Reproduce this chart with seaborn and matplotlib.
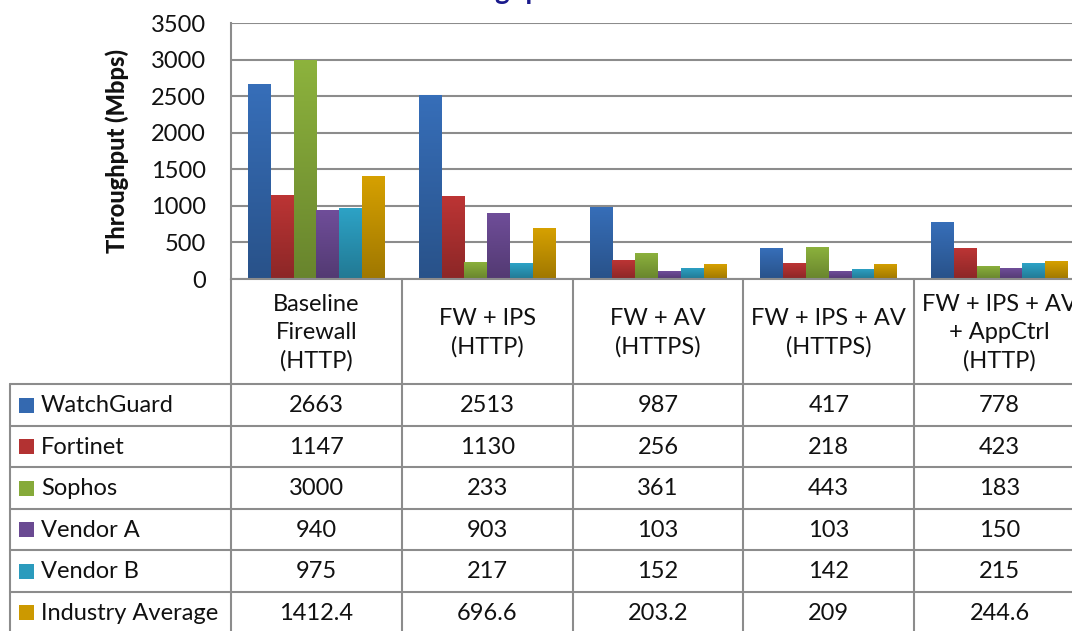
import numpy as np
import pandas as pd
import matplotlib
matplotlib.use("Agg")
import matplotlib.pyplot as plt
import matplotlib.colors as mcolors
import seaborn as sns

categories = ["Baseline\nFirewall\n(HTTP)", "FW + IPS\n(HTTP)", "FW + AV\n(HTTPS)",
              "FW + IPS + AV\n(HTTPS)", "FW + IPS + AV\n+ AppCtrl\n(HTTP)"]
vendors = ["WatchGuard", "Fortinet", "Sophos", "Vendor A", "Vendor B", "Industry Average"]
watchguard = [2663, 2513, 987, 417, 778]
fortinet = [1147, 1130, 256, 218, 423]
sophos = [3000, 233, 361, 443, 183]
vendor_a = [940, 903, 103, 103, 150]
vendor_b = [975, 217, 152, 142, 215]
industry_avg = [1412.4, 696.6, 203.2, 209, 244.6]
table_text = {
    "WatchGuard": ["2663", "2513", "987", "417", "778"],
    "Fortinet": ["1147", "1130", "256", "218", "423"],
    "Sophos": ["3000", "233", "361", "443", "183"],
    "Vendor A": ["940", "903", "103", "103", "150"],
    "Vendor B": ["975", "217", "152", "142", "215"],
    "Industry Average": ["1412.4", "696.6", "203.2", "209", "244.6"],
}
colors = ["#3469B0", "#B33232", "#86AA3A", "#6A4A92", "#2B9BBD", "#CC9900"]

series = [watchguard, fortinet, sophos, vendor_a, vendor_b, industry_avg]
df = pd.DataFrame({
    "category": np.tile(np.arange(len(categories)), len(vendors)),
    "vendor": np.repeat(vendors, len(categories)),
    "value": np.concatenate(series),
})

sns.set_theme(style="white")
plt.rcParams["font.family"] = ["Lato", "DejaVu Sans"]

FS = 17
W, H = 1072, 631
fig = plt.figure(figsize=(W / 100, H / 100), dpi=100)

def fx(px):
    return px / W

def fy(py):
    return 1 - py / H

ax_left, ax_right, ax_top, ax_bot = 231, 1085, 23, 279
ax = fig.add_axes([fx(ax_left), fy(ax_bot), (ax_right - ax_left) / W, (ax_bot - ax_top) / H])

sns.barplot(data=df, x="category", y="value", hue="vendor", hue_order=vendors,
            palette=colors, width=0.8, ax=ax, legend=False, saturation=1,
            edgecolor="none", linewidth=0)

ax.set_xlim(-0.5, len(categories) - 0.5)
ax.set_ylim(0, 3500)
ax.set_yticks(np.arange(0, 3501, 500))
ax.set_yticklabels([str(v) for v in range(0, 3501, 500)], fontsize=FS, color="#111111")
ax.tick_params(axis="y", length=0, pad=18)
ax.set_xticks([])
ax.set_xlabel("")
ax.set_ylabel("Throughput (Mbps)", fontsize=FS, fontweight="black", labelpad=16,
              color="#111111")
ax.yaxis.grid(True, color="#8C8C8C", linewidth=1.5)
ax.set_axisbelow(True)
for s in ["top", "right"]:
    ax.spines[s].set_visible(False)
for s in ["left", "bottom"]:
    ax.spines[s].set_color("#8C8C8C")
    ax.spines[s].set_linewidth(1.5)

# gradient fill on bars
for p in list(ax.patches):
    x0, y0 = p.get_x(), p.get_y()
    w, h = p.get_width(), p.get_height()
    if h <= 0:
        continue
    base = np.array(mcolors.to_rgb(p.get_facecolor()))
    top = np.clip(base * 1.05, 0, 1)
    bot = base * 0.78
    t = np.linspace(0, 1, 64)[:, None]
    grad = top[None, :] * (1 - t) + bot[None, :] * t
    img = np.repeat(grad[:, None, :], 2, axis=1)
    im = ax.imshow(img, extent=[x0, x0 + w, y0, y0 + h], origin="upper",
                   aspect="auto", zorder=p.get_zorder() + 0.1, interpolation="bilinear")
    im.set_clip_path(p)
ax.set_xlim(-0.5, len(categories) - 0.5)
ax.set_ylim(0, 3500)

# data table
line_c = "#8C8C8C"
col_edges = [231 + i * (ax_right - ax_left) / len(categories) for i in range(len(categories) + 1)]
header_top, header_bot = 279, 384
row_h = 41.5
n_rows = len(vendors)
table_left = 10
table_bottom = header_bot + row_h * n_rows

def hline(y, x0, x1):
    fig.add_artist(plt.Line2D([fx(x0), fx(x1)], [fy(y), fy(y)], color=line_c, lw=1.5))

def vline(x, y0, y1):
    fig.add_artist(plt.Line2D([fx(x), fx(x)], [fy(y0), fy(y1)], color=line_c, lw=1.5))

for xe in col_edges:
    vline(xe, header_top, table_bottom)
vline(table_left, header_bot, table_bottom)
for i in range(n_rows + 1):
    hline(header_bot + i * row_h, table_left, col_edges[-1])

for j, cat in enumerate(categories):
    cx = (col_edges[j] + col_edges[j + 1]) / 2
    fig.text(fx(cx), fy((header_top + header_bot) / 2 + 1), cat, ha="center", va="center",
             fontsize=FS, linespacing=1.4, color="#111111")

for i, v in enumerate(vendors):
    cy = header_bot + (i + 0.5) * row_h + 1
    fig.patches.append(plt.Rectangle((fx(19), fy(cy + 7)), 15 / W, 15 / H,
                                     transform=fig.transFigure, facecolor=colors[i],
                                     edgecolor="none", figure=fig))
    fig.text(fx(41), fy(cy), v, ha="left", va="center", fontsize=FS, color="#111111")
    for j in range(len(categories)):
        cx = (col_edges[j] + col_edges[j + 1]) / 2
        fig.text(fx(cx), fy(cy), table_text[v][j], ha="center", va="center",
                 fontsize=FS, color="#111111")

fig.text(fx(422), fy(-1), "Throughput", ha="left", va="baseline", fontsize=20,
         fontweight="bold", color="#1A1A8C")

fig.savefig("out.png", dpi=100)
